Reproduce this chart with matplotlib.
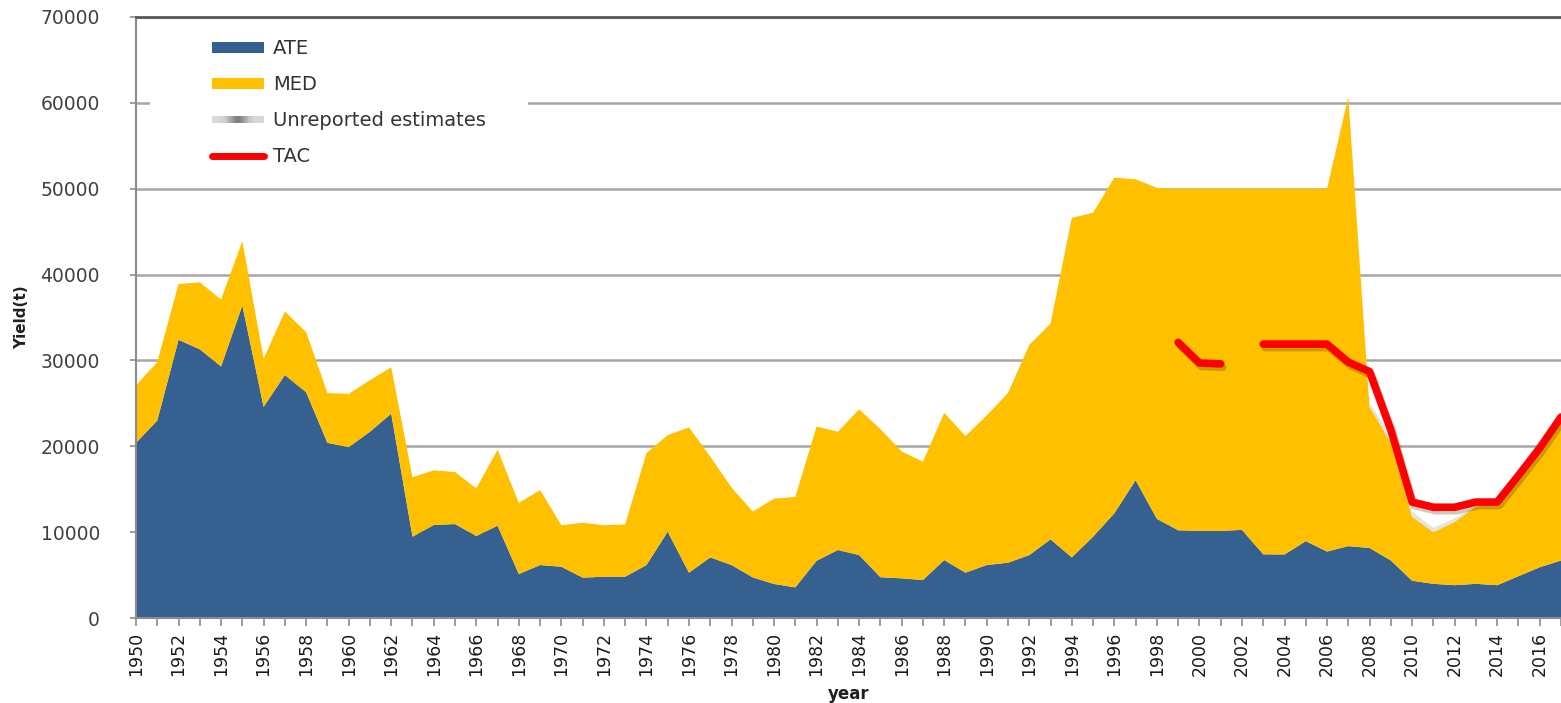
import numpy as np
import matplotlib
matplotlib.use("Agg")
import matplotlib.pyplot as plt
import matplotlib.patheffects as pe
import matplotlib.transforms as mtransforms
from matplotlib.patches import Rectangle
from matplotlib.lines import Line2D
from matplotlib.legend_handler import HandlerBase

years = list(range(1950, 2018))

ate = [20400, 23000, 32400, 31300, 29300, 36400, 24600, 28300, 26300, 20400,
       19900, 21700, 23800, 9470, 10830, 10940, 9550, 10750, 5120, 6170,
       5970, 4700, 4810, 4810, 6170, 10050, 5280, 7060, 6170, 4730,
       3960, 3570, 6670, 7920, 7330, 4750, 4620, 4420, 6750, 5280,
       6170, 6440, 7330, 9160, 7060, 9470, 12200, 16050, 11550, 10220,
       10150, 10150, 10260, 7420, 7400, 8950, 7740, 8370, 8160, 6700,
       4340, 3980, 3820, 3980, 3820, 4870, 5910, 6700]

med = [6700, 6800, 6500, 7800, 7800, 7500, 5600, 7400, 7000, 5800,
       6200, 6000, 5400, 6930, 6370, 6060, 5550, 8850, 8280, 8730,
       4830, 6400, 5990, 6090, 13030, 11250, 16920, 11740, 9030, 7670,
       9940, 10530, 15630, 13780, 16970, 17250, 14780, 13780, 17150, 15920,
       17430, 19760, 24470, 25140, 39540, 37730, 39100, 35050, 38550, 39780,
       39850, 39850, 39740, 42580, 42600, 41050, 42260, 52330, 16440, 13700,
       7460, 6020, 7380, 9020, 9380, 11430, 13490, 16100]

unreported = [0] * 58 + [500, 700, 600, 500, 400, 0, 0, 0, 0, 0]

tac_years = [1999, 2000, 2001, 2002, 2003, 2004, 2005, 2006, 2007, 2008,
             2009, 2010, 2011, 2012, 2013, 2014, 2015, 2016, 2017]
tac = [32100, 29700, 29600, np.nan, 31900, 31900, 31900, 31900, 29800, 28700,
       21900, 13500, 12900, 12900, 13500, 13500, 16600, 19800, 23400]

yticks = [0, 10000, 20000, 30000, 40000, 50000, 60000, 70000]

C_ATE = "#35608f"
C_MED = "#ffc000"
C_UNR = "#e3e3e3"
C_TAC = "#ff0000"
GRID = "#a6a6a6"
TXT = "#404040"

fig = plt.figure(figsize=(15.61, 7.03), dpi=100)
ax = fig.add_axes([136 / 1561, 1 - 618 / 703, 1425 / 1561, (618 - 17) / 703])

ax.stackplot(years, ate, med, unreported, colors=[C_ATE, C_MED, C_UNR],
             linewidth=0, zorder=2)

ax.plot(tac_years, tac, color=C_TAC, lw=5.5, solid_capstyle="round",
        solid_joinstyle="round", zorder=4,
        path_effects=[pe.SimpleLineShadow(offset=(1.5, -2.5), alpha=0.25, shadow_color="#3a3000"),
                      pe.Normal()])

ax.set_xlim(1950, 2017)
ax.set_ylim(0, 70000)
ax.set_yticks(yticks)
ax.set_yticklabels([str(v) for v in yticks], fontsize=13.5, color=TXT)
ax.yaxis.grid(True, color=GRID, lw=1.8, zorder=1)
ax.set_axisbelow(True)

ax.set_xticks(years)
ax.set_xticklabels([str(y) if y % 2 == 0 else "" for y in years],
                   rotation=90, fontsize=12.5, color="#1a1a1a")
ax.tick_params(axis="x", length=6, width=1.2, color="#8c8c8c", pad=4)
ax.tick_params(axis="y", length=4, width=1.2, color="#8c8c8c", pad=22)

for s in ["left", "bottom"]:
    ax.spines[s].set_color("#8c8c8c")
    ax.spines[s].set_linewidth(1.5)
ax.spines["top"].set_color("#595959")
ax.spines["top"].set_linewidth(2)
ax.spines["right"].set_visible(False)

ax.set_ylabel("Yield(t)", fontsize=11, fontweight="bold", color="#202020", labelpad=8)
ax.set_xlabel("year", fontsize=12, fontweight="bold", color="#202020", labelpad=6)

# white legend background box (covers the gridline like the reference)
ax.add_patch(Rectangle((14 / 1425, 52500), (528 - 150) / 1425, 16500,
                       transform=mtransforms.blended_transform_factory(ax.transAxes, ax.transData),
                       facecolor="white", edgecolor="none", zorder=1.5))


class GradientHandler(HandlerBase):
    def create_artists(self, legend, orig_handle, xdescent, ydescent, width, height, fontsize, trans):
        arts = []
        n = 30
        for i in range(n):
            t = (i + 0.5) / n
            g = 0.85 - 0.35 * np.exp(-((t - 0.5) / 0.18) ** 2)
            r = Rectangle((-xdescent + width * i / n, -ydescent + height * 0.2), width / n + 0.3,
                          height * 0.6, facecolor=(g, g, g), edgecolor="none", transform=trans)
            arts.append(r)
        return arts


h_ate = Rectangle((0, 0), 1, 1, facecolor=C_ATE, edgecolor="none")
h_med = Rectangle((0, 0), 1, 1, facecolor=C_MED, edgecolor="none")
h_unr = Rectangle((0, 0), 1, 1, facecolor=C_UNR, edgecolor="none")
h_tac = Line2D([], [], color=C_TAC, lw=5, solid_capstyle="round")

leg = ax.legend([h_ate, h_med, h_unr, h_tac], ["ATE", "MED", "Unreported estimates", "TAC"],
                handler_map={h_unr: GradientHandler()},
                loc="upper left", bbox_to_anchor=(0.038, 0.999), fontsize=14,
                frameon=False, handlelength=2.7, handleheight=0.5, handletextpad=0.45,
                labelspacing=0.88, borderpad=0.6)
for t in leg.get_texts():
    t.set_color("#333333")
leg.set_zorder(5)

fig.savefig("out.png", dpi=100)
